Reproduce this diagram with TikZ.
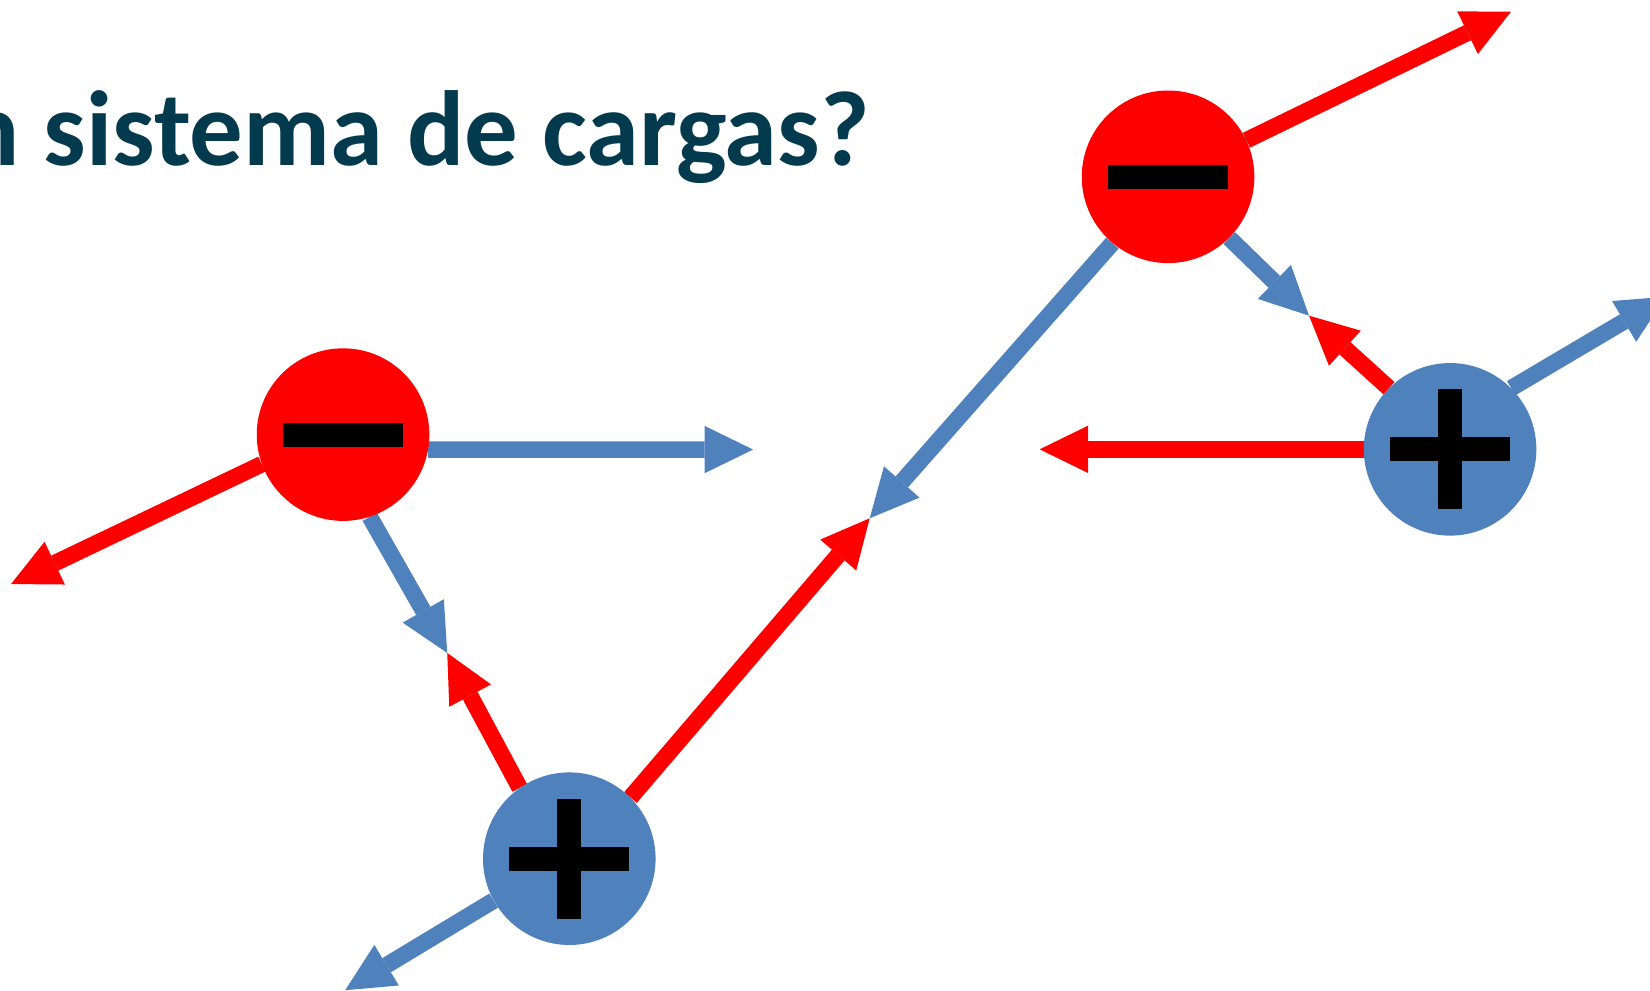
\documentclass[tikz,border=0pt]{standalone}
\usepackage{fontspec}
\setmainfont{Carlito}
\usetikzlibrary{arrows.meta,backgrounds}
\definecolor{chargered}{RGB}{255,0,0}
\definecolor{chargeblue}{RGB}{79,129,189}
\definecolor{titleteal}{RGB}{4,58,78}

\begin{document}
\begin{tikzpicture}[x=1pt,y=-1pt,
    charge/.style={circle,minimum size=164pt,inner sep=0pt},
    negcharge/.style={charge,fill=chargered},
    poscharge/.style={charge,fill=chargeblue},
    force/.style={line width=15.7pt,-{Triangle[length=46pt,width=45pt,line width=0pt]}},
    redforce/.style={force,draw=chargered},
    blueforce/.style={force,draw=chargeblue}]
\useasboundingbox (0,0) rectangle (1568,940.8);

\node [anchor=base west,inner sep=0pt,text=titleteal,font=\bfseries\fontsize{101.5}{120}\selectfont] (title) at (-36,157) {n sistema de cargas?};

\node [negcharge] (m1) at (326,413) {};
\node [negcharge] (m2) at (1110,168) {};
\node [poscharge] (p1) at (541,816) {};
\node [poscharge] (p2) at (1378,427) {};

% signs
\foreach \c in {m1,m2,p1,p2}
    \fill ([shift={(-57,-11.5)}]\c) rectangle ([shift={(57,11.5)}]\c);
\foreach \c in {p1,p2}
    \fill ([shift={(-11.5,-57)}]\c) rectangle ([shift={(11.5,57)}]\c);

% free ends of the forces
\coordinate (m1left) at (10.5,555);
\coordinate (m1right) at (715.6,427.2);
\coordinate (meetA) at (425,620.5);
\coordinate (meetB) at (826.5,492.5);
\coordinate (meetC) at (1244,300);
\coordinate (m2up) at (1436,11);
\coordinate (p2left) at (988,427);
\coordinate (p2up) at (1583,282);
\coordinate (p1down) at (328,941);

\begin{scope}[on background layer]
\draw [redforce] (m1.200) -- (m1left);
\draw [blueforce] (m1.-10) -- (m1right);
\draw [blueforce] (m1.-72) -- (meetA);
\draw [redforce] (p1.125) -- (meetA);
\draw [redforce] (p1.45) -- (meetB);
\draw [blueforce] (p1.209) -- (p1down);
\draw [blueforce] (m2.230) -- (meetB);
\draw [blueforce] (m2.-45) -- (meetC);
\draw [redforce] (p2.135) -- (meetC);
\draw [redforce] (m2.25) -- (m2up);
\draw [redforce] (p2.west) -- (p2left);
\draw [blueforce] (p2.45) -- (p2up);
\end{scope}
\end{tikzpicture}
\end{document}
